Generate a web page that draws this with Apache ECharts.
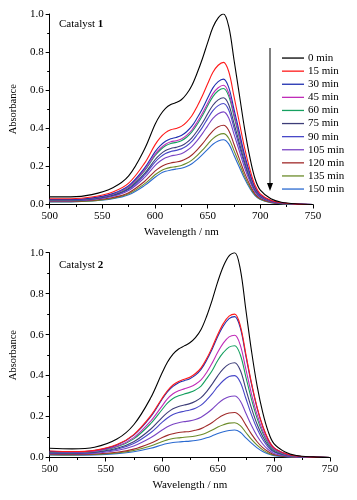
<!DOCTYPE html>
<html>
<head>
<meta charset="utf-8">
<script src="https://cdn.jsdelivr.net/npm/echarts@6/dist/echarts.min.js"></script>
<style>
html,body{margin:0;padding:0;background:#fff;}
#c{width:357px;height:500px;}
</style>
</head>
<body>
<div id="c"></div>
<script>
// Wavelength grid (nm)
const wavelengths = [500, 520, 540, 560, 575, 590, 600, 605, 610, 615, 620, 625, 630, 635, 640, 645, 650, 655, 660, 665, 670, 675, 680, 685, 690, 695, 700, 710, 720, 735, 750];
const timeLabels = ['0 min', '15 min', '30 min', '45 min', '60 min', '75 min', '90 min', '105 min', '120 min', '135 min', '150 min'];
const colors = ['#000000', '#ff1a1a', '#1f2fb0', '#c02cb8', '#16a060', '#3d3d78', '#4848c8', '#7a44c4', '#a02a2a', '#6c8c2a', '#2a6ad0'];

// Catalyst 1 absorbance
const c1_0   = [0.040,0.040,0.052,0.088,0.150,0.290,0.420,0.470,0.505,0.525,0.535,0.550,0.580,0.625,0.690,0.765,0.850,0.930,0.980,1.000,0.935,0.760,0.580,0.400,0.250,0.135,0.075,0.030,0.012,0.003,0.000];
const c1_15  = [0.030,0.030,0.039,0.066,0.112,0.216,0.313,0.351,0.377,0.392,0.399,0.410,0.433,0.466,0.515,0.571,0.634,0.694,0.731,0.746,0.698,0.567,0.433,0.298,0.187,0.101,0.056,0.022,0.009,0.002,0];
const c1_30  = [0.026,0.026,0.034,0.058,0.099,0.191,0.276,0.309,0.332,0.345,0.352,0.362,0.382,0.411,0.454,0.503,0.559,0.612,0.645,0.658,0.615,0.500,0.382,0.263,0.165,0.089,0.049,0.020,0.008,0.002,0];
const c1_45  = [0.025,0.025,0.033,0.055,0.094,0.182,0.263,0.294,0.316,0.329,0.335,0.344,0.363,0.391,0.432,0.479,0.532,0.582,0.613,0.626,0.585,0.476,0.363,0.250,0.157,0.085,0.047,0.019,0.008,0.002,0];
const c1_60  = [0.024,0.024,0.032,0.054,0.091,0.177,0.256,0.286,0.308,0.320,0.326,0.335,0.353,0.381,0.420,0.466,0.518,0.566,0.597,0.609,0.569,0.463,0.353,0.244,0.152,0.082,0.046,0.018,0.007,0.002,0];
const c1_75  = [0.022,0.022,0.029,0.049,0.084,0.162,0.235,0.263,0.283,0.294,0.300,0.308,0.325,0.350,0.386,0.428,0.476,0.521,0.549,0.560,0.524,0.426,0.325,0.224,0.140,0.076,0.042,0.017,0.007,0.002,0];
const c1_90  = [0.021,0.021,0.028,0.047,0.080,0.154,0.223,0.249,0.268,0.278,0.284,0.292,0.307,0.331,0.366,0.405,0.451,0.493,0.519,0.530,0.496,0.403,0.307,0.212,0.133,0.072,0.040,0.016,0.006,0.002,0];
const c1_105 = [0.019,0.019,0.025,0.043,0.073,0.141,0.204,0.228,0.245,0.255,0.260,0.267,0.282,0.304,0.335,0.372,0.413,0.452,0.476,0.486,0.454,0.369,0.282,0.194,0.122,0.066,0.036,0.015,0.006,0.001,0];
const c1_120 = [0.017,0.017,0.022,0.037,0.062,0.121,0.175,0.196,0.210,0.218,0.223,0.229,0.241,0.260,0.287,0.318,0.354,0.387,0.408,0.416,0.389,0.316,0.241,0.166,0.104,0.056,0.031,0.012,0.005,0.001,0];
const c1_135 = [0.015,0.015,0.019,0.033,0.056,0.108,0.156,0.175,0.188,0.195,0.199,0.205,0.216,0.233,0.257,0.285,0.316,0.346,0.365,0.372,0.348,0.283,0.216,0.149,0.093,0.050,0.028,0.011,0.004,0.001,0];
const c1_150 = [0.014,0.014,0.018,0.030,0.051,0.099,0.143,0.162,0.174,0.181,0.186,0.190,0.199,0.214,0.236,0.262,0.289,0.316,0.333,0.340,0.318,0.258,0.197,0.136,0.085,0.046,0.026,0.010,0.004,0.001,0];

// Catalyst 2 absorbance
const c2_0   = [0.045,0.042,0.050,0.090,0.160,0.290,0.410,0.465,0.505,0.530,0.545,0.560,0.585,0.625,0.690,0.770,0.860,0.935,0.985,1.000,0.920,0.720,0.520,0.350,0.220,0.125,0.068,0.027,0.010,0.003,0.000];
const c2_15  = [0.032,0.029,0.035,0.063,0.112,0.203,0.287,0.326,0.354,0.371,0.382,0.392,0.410,0.438,0.483,0.539,0.602,0.655,0.690,0.700,0.644,0.504,0.364,0.245,0.154,0.088,0.048,0.019,0.007,0.002,0];
const c2_30  = [0.030,0.028,0.034,0.061,0.109,0.198,0.282,0.320,0.347,0.365,0.375,0.385,0.402,0.430,0.475,0.530,0.592,0.643,0.678,0.688,0.633,0.495,0.358,0.241,0.151,0.086,0.047,0.019,0.007,0.002,0];
const c2_45  = [0.028,0.026,0.031,0.055,0.097,0.177,0.250,0.286,0.311,0.326,0.335,0.344,0.358,0.379,0.415,0.462,0.515,0.560,0.589,0.597,0.549,0.430,0.310,0.209,0.131,0.075,0.041,0.016,0.006,0.002,0];
const c2_60  = [0.026,0.024,0.029,0.052,0.091,0.165,0.232,0.265,0.288,0.301,0.310,0.318,0.330,0.349,0.385,0.425,0.475,0.513,0.539,0.546,0.502,0.393,0.284,0.191,0.120,0.068,0.037,0.015,0.005,0.002,0];
const c2_75  = [0.024,0.022,0.026,0.045,0.077,0.138,0.194,0.219,0.238,0.249,0.256,0.263,0.275,0.292,0.322,0.359,0.400,0.434,0.456,0.463,0.426,0.333,0.241,0.162,0.102,0.058,0.031,0.013,0.005,0.001,0];
const c2_90  = [0.022,0.020,0.024,0.040,0.068,0.121,0.170,0.193,0.210,0.220,0.226,0.232,0.241,0.256,0.281,0.312,0.347,0.376,0.395,0.400,0.368,0.288,0.208,0.140,0.088,0.050,0.027,0.011,0.004,0.001,0];
const c2_105 = [0.019,0.018,0.021,0.034,0.056,0.096,0.133,0.150,0.162,0.170,0.175,0.179,0.186,0.197,0.215,0.237,0.263,0.284,0.297,0.300,0.276,0.216,0.156,0.105,0.066,0.038,0.020,0.008,0.003,0.001,0];
const c2_120 = [0.016,0.015,0.017,0.026,0.041,0.070,0.096,0.108,0.116,0.122,0.125,0.127,0.133,0.141,0.155,0.171,0.191,0.207,0.217,0.220,0.202,0.158,0.114,0.077,0.048,0.028,0.015,0.006,0.002,0.001,0];
const c2_135 = [0.014,0.013,0.015,0.022,0.034,0.056,0.077,0.086,0.093,0.096,0.099,0.101,0.105,0.111,0.121,0.134,0.149,0.160,0.168,0.170,0.156,0.122,0.088,0.060,0.037,0.021,0.012,0.005,0.002,0.001,0];
const c2_150 = [0.012,0.011,0.013,0.019,0.028,0.045,0.061,0.068,0.073,0.076,0.078,0.080,0.083,0.088,0.096,0.106,0.117,0.126,0.132,0.134,0.123,0.096,0.070,0.047,0.029,0.017,0.009,0.004,0.001,0,0];

const yTicks = [0, 0.2, 0.4, 0.6, 0.8, 1.0];
const xTicks = [500, 550, 600, 650, 700, 750];

const cat1 = [c1_0, c1_15, c1_30, c1_45, c1_60, c1_75, c1_90, c1_105, c1_120, c1_135, c1_150];
const cat2 = [c2_0, c2_15, c2_30, c2_45, c2_60, c2_75, c2_90, c2_105, c2_120, c2_135, c2_150];

const FONT = 'Liberation Serif';

function xAxisFor(idx) {
  return {
    type: 'value', gridIndex: idx, min: xTicks[0], max: xTicks[xTicks.length - 1], interval: 50,
    name: 'Wavelength / nm', nameLocation: 'middle', nameGap: 22,
    nameTextStyle: { fontFamily: FONT, fontSize: 11, color: '#000' },
    axisLine: { show: true, lineStyle: { color: '#000', width: 1 } },
    axisTick: { show: true, length: 4, lineStyle: { color: '#000' } },
    minorTick: { show: true, splitNumber: 2, length: 2.5, lineStyle: { color: '#000' } },
    axisLabel: { fontFamily: FONT, fontSize: 11, color: '#000', margin: 6 },
    splitLine: { show: false }
  };
}
function yAxisFor(idx) {
  return {
    type: 'value', gridIndex: idx, min: yTicks[0], max: yTicks[yTicks.length - 1], interval: 0.2,
    name: 'Absorbance', nameLocation: 'middle', nameGap: 29,
    nameTextStyle: { fontFamily: FONT, fontSize: 10.5, color: '#000' },
    axisLine: { show: true, lineStyle: { color: '#000', width: 1 } },
    axisTick: { show: true, length: 4, lineStyle: { color: '#000' } },
    minorTick: { show: true, splitNumber: 2, length: 2.5, lineStyle: { color: '#000' } },
    axisLabel: { fontFamily: FONT, fontSize: 11, color: '#000', margin: 6, formatter: v => v.toFixed(1) },
    splitLine: { show: false }
  };
}

const series = [];
[cat1, cat2].forEach((set, gi) => {
  set.forEach((arr, i) => {
    series.push({
      name: timeLabels[i], type: 'line', xAxisIndex: gi, yAxisIndex: gi,
      data: wavelengths.map((w, j) => [w, arr[j]]),
      smooth: 0.35, symbol: 'none', silent: true,
      lineStyle: { color: colors[i], width: 1.1 },
      itemStyle: { color: colors[i] },
      z: 20 - i
    });
  });
});

const chart = echarts.init(document.getElementById('c'), null, { renderer: 'canvas' });
chart.setOption({
  animation: false,
  backgroundColor: '#fff',
  grid: [
    { left: 48, top: 14, width: 265, height: 190.5 },
    { left: 48, top: 252.7, width: 282, height: 204.8 }
  ],
  xAxis: [xAxisFor(0), xAxisFor(1)],
  yAxis: [yAxisFor(0), yAxisFor(1)],
  legend: {
    data: timeLabels, orient: 'vertical', left: 277, top: 46.5,
    icon: 'rect', itemWidth: 22, itemHeight: 1.3, itemGap: 0,
    selectedMode: false,
    textStyle: { fontFamily: FONT, fontSize: 11, color: '#000', lineHeight: 13.1, padding: [0, 0, 0, -1] }
  },
  graphic: [
    { type: 'text', left: 59, top: 19, style: { text: '{r|Catalyst }{b|1}', rich: { r: { fontFamily: FONT, fontSize: 11, fill: '#000' }, b: { fontFamily: FONT, fontSize: 11, fontWeight: 'bold', fill: '#000' } } } },
    { type: 'text', left: 59, top: 260, style: { text: '{r|Catalyst }{b|2}', rich: { r: { fontFamily: FONT, fontSize: 11, fill: '#000' }, b: { fontFamily: FONT, fontSize: 11, fontWeight: 'bold', fill: '#000' } } } },
    { type: 'line', shape: { x1: 270, y1: 48, x2: 270, y2: 186 }, style: { stroke: '#000', lineWidth: 1 } },
    { type: 'polygon', shape: { points: [[267, 183], [273, 183], [270, 191]] }, style: { fill: '#000' } }
  ],
  series: series
});
</script>
</body>
</html>
